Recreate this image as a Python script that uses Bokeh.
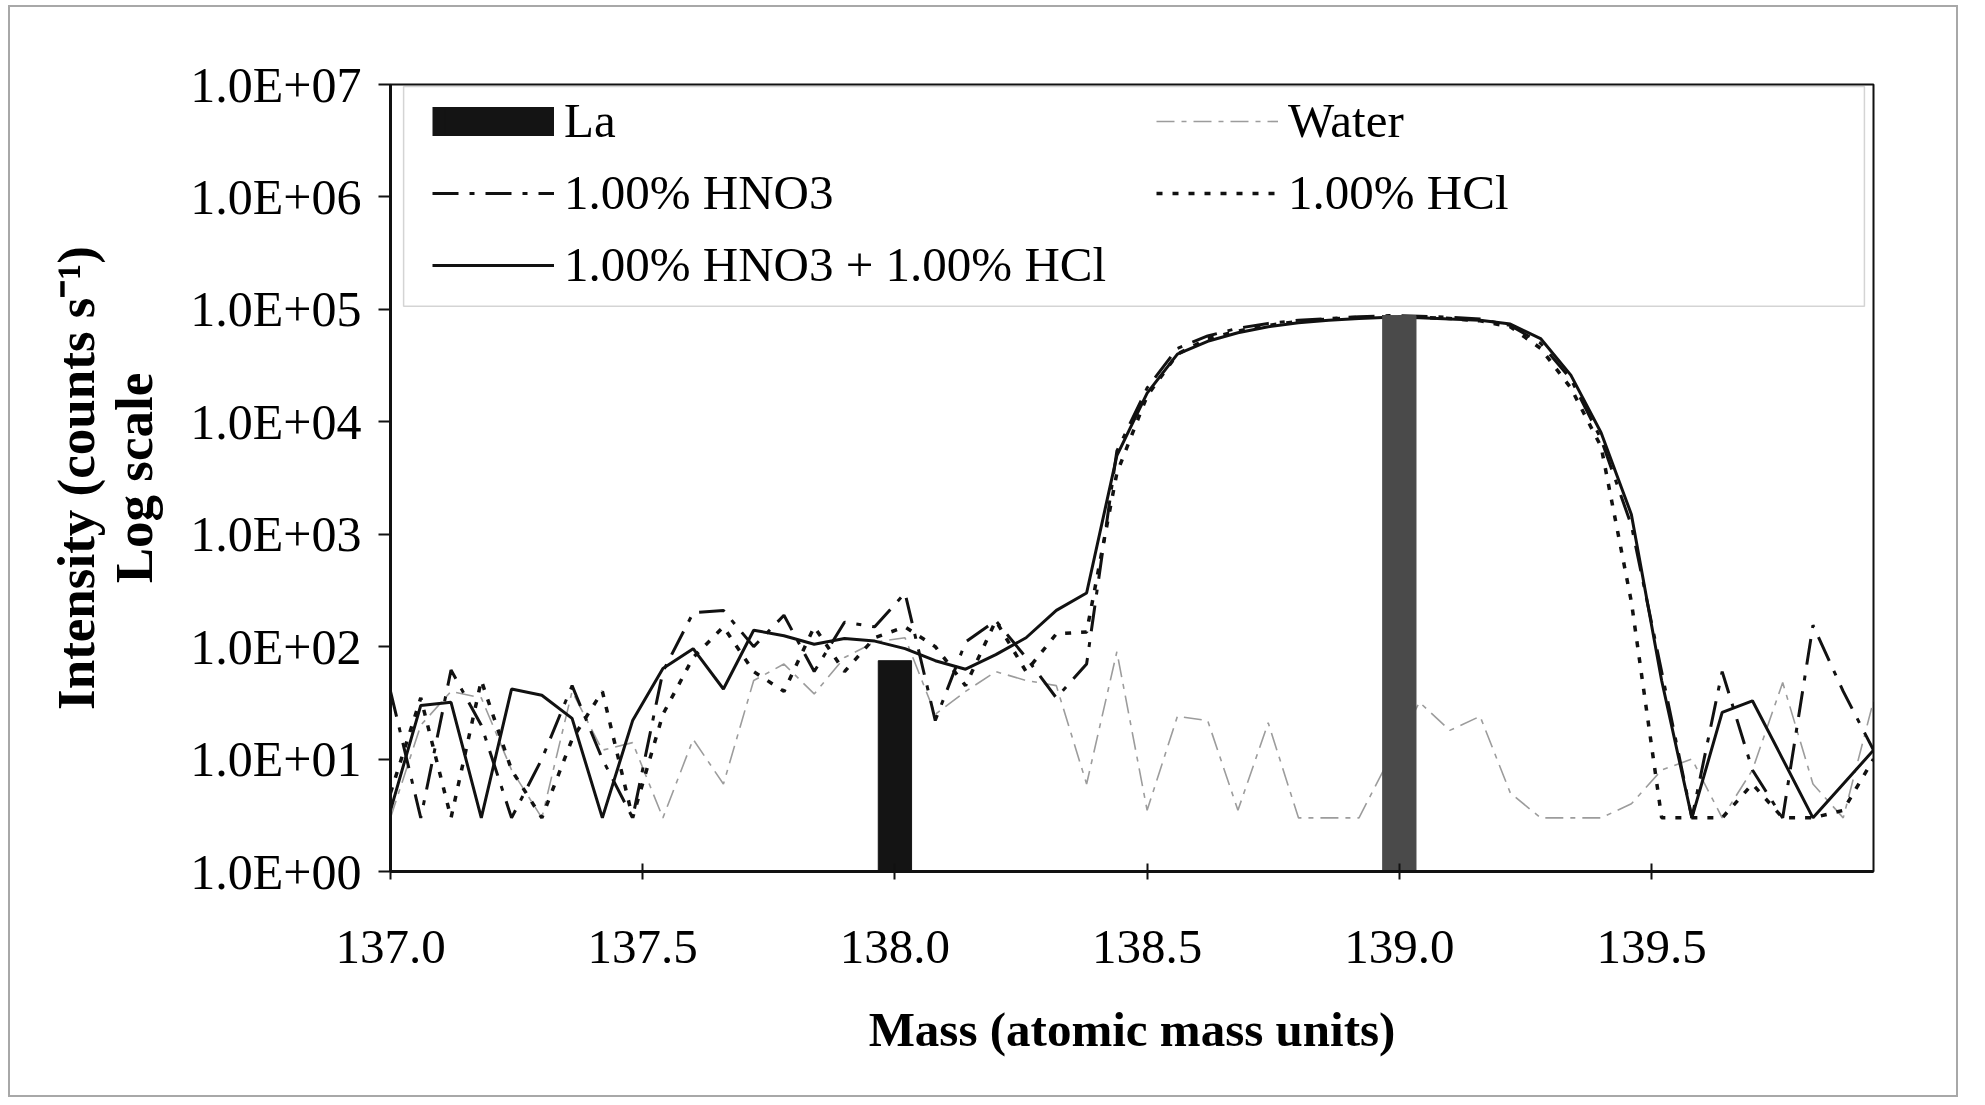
from bokeh.plotting import figure
from bokeh.models import (FixedTicker, CustomJSTickFormatter, PrintfTickFormatter, Legend,
                          LegendItem, BoxAnnotation, ColumnDataSource)
from bokeh.embed import file_html
from bokeh.resources import INLINE

# ---------------- data ----------------
mass = [137.00, 137.06, 137.12, 137.18, 137.24, 137.30, 137.36, 137.42, 137.48, 137.54,
        137.60, 137.66, 137.72, 137.78, 137.84, 137.90, 137.96, 138.02, 138.08, 138.14,
        138.20, 138.26, 138.32, 138.38, 138.44, 138.50, 138.56, 138.62, 138.68, 138.74,
        138.80, 138.86, 138.92, 138.98, 139.04, 139.10, 139.16, 139.22, 139.28, 139.34,
        139.40, 139.46, 139.52, 139.58, 139.64, 139.70, 139.76, 139.82, 139.88, 139.94]

water = [3, 20, 40, 35, 8, 3, 40, 12, 14, 3,
         15, 6, 50, 70, 38, 80, 110, 120, 25, 40,
         60, 50, 45, 6, 90, 3.5, 24, 22, 3.5, 21,
         3, 3, 3, 10, 32, 18, 24, 5, 3, 3,
         3, 4, 8, 10, 3, 8, 48, 6, 3, 33]

hno3 = [40, 3, 62, 20, 3, 10, 45, 10, 3, 60,
        200, 210, 100, 190, 60, 165, 150, 300, 22, 110,
        170, 80, 35, 70, 5500, 20000, 45000, 58000, 68000, 75000,
        80000, 83000, 86000, 88000, 87000, 85000, 82000, 72000, 50000, 24000,
        7000, 1200, 60, 3, 60, 8, 3, 155, 40, 12]

hcl = [5, 35, 3, 50, 8, 3, 15, 40, 3, 25,
       80, 150, 60, 40, 150, 60, 120, 150, 100, 45,
       170, 60, 130, 135, 3500, 17000, 40000, 55000, 64000, 72000,
       78000, 82000, 85000, 86000, 85000, 83000, 79000, 70000, 45000, 20000,
       6000, 250, 3, 3, 3, 6, 3, 3, 3.5, 10]

hno3_hcl = [3.5, 30, 32, 3, 42, 37, 23, 3, 22, 64,
            96, 42, 140, 125, 105, 118, 112, 96, 75, 63,
            85, 120, 210, 300, 5000, 18000, 40000, 52000, 62000, 70000,
            76000, 80000, 83000, 85000, 84000, 82000, 80000, 74000, 55000, 26000,
            8000, 1500, 50, 3, 26, 33, 10, 3, 6, 12]

la_mass = [138.0, 139.0]
la_counts = [75, 88000]

x_ticks = [137.0, 137.5, 138.0, 138.5, 139.0, 139.5]
y_ticks = [1, 10, 100, 1000, 10000, 100000, 1000000, 10000000]

series_labels = ["La", "Water", "1.00% HNO3", "1.00% HCl", "1.00% HNO3 + 1.00% HCl"]

FONT = "Liberation Serif"
INK = "#111111"

p = figure(width=1950, height=1092, margin=(5, 0, 0, 8),
           x_range=(137.0, 139.94), y_range=(1, 1e7), y_axis_type="log",
           output_backend="svg", toolbar_location=None,
           min_border_left=380, min_border_top=77, min_border_right=87, min_border_bottom=228)
p.styles = {"border": "2px solid #a8a8a8"}
p.background_fill_color = "white"
p.border_fill_color = "white"
p.outline_line_color = INK
p.outline_line_width = 2
p.xgrid.visible = False
p.ygrid.visible = False

r_water = p.line(mass, water, line_color="#9c9c9c", line_width=1.6, line_dash="18 7 5 7")
r_hcl = p.line(mass, hcl, line_color=INK, line_width=3.5, line_dash="6 10")
r_hno3 = p.line(mass, hno3, line_color=INK, line_width=3, line_dash="26 11 5 11")
r_mix = p.line(mass, hno3_hcl, line_color=INK, line_width=3)

r_la = p.vbar(x=la_mass[:1], top=la_counts[:1], bottom=1, width=0.066,
              fill_color="#141414", line_color="#141414")
r_la2 = p.vbar(x=la_mass[1:], top=la_counts[1:], bottom=1, width=0.066,
               fill_color="#4a4a4a", line_color="#4a4a4a")
# legend swatch for the bars (a single undefined point: nothing is drawn in the plot)
nan = float("nan")
r_la_key = p.line(x="x", y="y", source=ColumnDataSource(data=dict(x=[nan], y=[nan])),
                  line_color="#141414", line_width=29, line_cap="butt")

# axes
p.xaxis.ticker = FixedTicker(ticks=x_ticks, minor_ticks=[])
p.xaxis.formatter = PrintfTickFormatter(format="%.1f")
p.yaxis.ticker = FixedTicker(ticks=y_ticks, minor_ticks=[])
p.yaxis.formatter = CustomJSTickFormatter(code="""
    const s = tick.toExponential(1).toUpperCase();
    return s.replace(/E([+-])(\\d)$/, "E$10$2");
""")
for ax in (p.xaxis, p.yaxis):
    ax.axis_line_width = 3
    ax.axis_line_color = INK
    ax.major_tick_line_width = 2
    ax.major_tick_line_color = INK
    ax.major_label_text_font = FONT
    ax.major_label_text_color = "black"
    ax.axis_label_text_font = FONT
    ax.axis_label_text_font_style = "bold"
    ax.axis_label_text_color = "black"

p.xaxis.major_tick_in = 8
p.xaxis.major_tick_out = 8
p.xaxis.major_label_text_font_size = "49px"
p.xaxis.major_label_standoff = 51
p.xaxis.axis_label = "Mass (atomic mass units)"
p.xaxis.axis_label_text_font_size = "49px"
p.xaxis.axis_label_standoff = 36

p.yaxis.major_tick_in = 0
p.yaxis.major_tick_out = 12
p.yaxis.major_label_text_font_size = "50px"
p.yaxis.major_label_standoff = 17
p.yaxis.axis_label = "Intensity (counts s\u207b\u00b9)\nLog scale"
p.yaxis.axis_label_text_font_size = "53px"
p.yaxis.axis_label_text_line_height = 1.0
p.yaxis.axis_label_standoff = 24

# legend frame
p.add_layout(BoxAnnotation(left=137.026, right=139.922, bottom=1.065e5, top=9.6e6,
                           fill_alpha=0, line_color="#707070", line_width=1.5))

legend = Legend(
    items=[LegendItem(label=series_labels[0], renderers=[r_la_key, r_la]),
           LegendItem(label=series_labels[2], renderers=[r_hno3]),
           LegendItem(label=series_labels[4], renderers=[r_mix]),
           LegendItem(label=series_labels[1], renderers=[r_water]),
           LegendItem(label=series_labels[3], renderers=[r_hcl])],
    location=(31, 567), nrows=3,
    glyph_width=122, glyph_height=30, label_standoff=10, label_width=577,
    spacing=15, padding=11, margin=0,
    border_line_alpha=0, background_fill_alpha=0,
    label_text_font=FONT, label_text_font_size="49px", label_text_color="black")
p.add_layout(legend)

open("out.html", "w").write(file_html(p, INLINE))
